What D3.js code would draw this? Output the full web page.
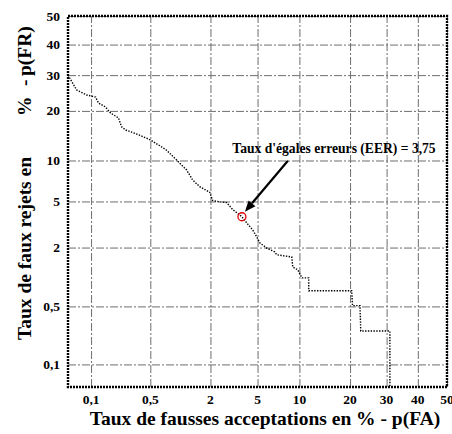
<!DOCTYPE html>
<html>
<head>
<meta charset="utf-8">
<script src="https://cdn.jsdelivr.net/npm/d3@7"></script>
<style>
  html, body { margin: 0; padding: 0; background: #fff; }
  svg { display: block; }
  text { font-family: "Liberation Serif", "Times New Roman", serif; font-weight: bold; }
</style>
</head>
<body>
<svg id="chart" width="452" height="434"></svg>
<script>
// DET curve: false acceptance vs false rejection rates (%), normal-deviate axes
const faRate = [0.05, 0.065, 0.087, 0.114, 0.124, 0.151, 0.174, 0.217, 0.236, 0.263,
  0.35, 0.50, 0.66, 0.745, 0.94, 1.19, 1.36, 1.59, 1.97, 2.09,
  2.28, 2.79, 3.14, 3.75, 4.1, 4.58, 4.93, 5.2, 5.88, 6.74,
  6.97, 8.88, 9.03, 9.75, 10.4, 11.5, 11.5, 20.4, 20.6, 22.5,
  22.7, 31.0, 31.0];
const frRate = [30.0, 25.6, 24.2, 23.6, 22.0, 21.0, 19.5, 18.3, 16.3, 15.6,
  14.8, 13.6, 12.3, 11.7, 10.1, 8.6, 7.3, 6.5, 5.9, 5.1,
  5.0, 4.9, 4.3, 3.75, 3.33, 2.89, 2.5, 2.21, 1.98, 1.82,
  1.71, 1.63, 1.30, 1.22, 1.01, 1.01, 0.74, 0.74, 0.51, 0.51,
  0.26, 0.26, 0.05];
const xTicks = [0.1, 0.5, 2, 5, 10, 20, 30, 40, 50];
const yTicks = [0.1, 0.5, 2, 5, 10, 20, 30, 40, 50];
const eer = 3.75;
const rateMin = 0.05, rateMax = 50;

// Inverse of the standard normal CDF (Acklam's rational approximation)
function probit(p) {
  const a = [-39.69683028665376, 220.9460984245205, -275.9285104469687, 138.3577518672690, -30.66479806614716, 2.506628277459239];
  const b = [-54.47609879822406, 161.5858368580409, -155.6989798598866, 66.80131188771972, -13.28068155288572];
  const c = [-0.007784894002430293, -0.3223964580411365, -2.400758277161838, -2.549732539343734, 4.374664141464968, 2.938163982698783];
  const d = [0.007784695709041462, 0.3224671290700398, 2.445134137142996, 3.754408661907416];
  const pl = 0.02425;
  let q, r;
  if (p < pl) {
    q = Math.sqrt(-2 * Math.log(p));
    return (((((c[0]*q+c[1])*q+c[2])*q+c[3])*q+c[4])*q+c[5]) / ((((d[0]*q+d[1])*q+d[2])*q+d[3])*q+1);
  } else if (p <= 1 - pl) {
    q = p - 0.5; r = q * q;
    return (((((a[0]*r+a[1])*r+a[2])*r+a[3])*r+a[4])*r+a[5])*q / (((((b[0]*r+b[1])*r+b[2])*r+b[3])*r+b[4])*r+1);
  } else {
    q = Math.sqrt(-2 * Math.log(1 - p));
    return -(((((c[0]*q+c[1])*q+c[2])*q+c[3])*q+c[4])*q+c[5]) / ((((d[0]*q+d[1])*q+d[2])*q+d[3])*q+1);
  }
}
const z = pct => probit(pct / 100);

const plotL = 68, plotR = 447, plotT = 16, plotB = 387;
const xLin = d3.scaleLinear().domain([z(rateMin), z(rateMax)]).range([plotL, plotR]);
const yLin = d3.scaleLinear().domain([z(rateMin), z(rateMax)]).range([plotB, plotT]);
const x = v => xLin(z(v));
const y = v => yLin(z(v));
const fmt = v => String(v).replace(".", ",");

const svg = d3.select("#chart");

// grid lines via axes
const gridX = d3.axisBottom(xLin)
  .tickValues(xTicks.map(z)).tickSizeInner(-(plotB - plotT)).tickSizeOuter(0).tickFormat("");
const gridY = d3.axisLeft(yLin)
  .tickValues(yTicks.map(z)).tickSizeInner(-(plotR - plotL)).tickSizeOuter(0).tickFormat("");

const gx = svg.append("g").attr("transform", `translate(0,${plotB})`).call(gridX);
const gy = svg.append("g").attr("transform", `translate(${plotL},0)`).call(gridY);
[gx, gy].forEach(g => {
  g.select(".domain").remove();
  g.selectAll(".tick line").attr("stroke", "#6e6e6e").attr("stroke-width", 1)
    .attr("stroke-dasharray", "8,2,2,2");
});

// tick labels
svg.append("g").selectAll("text").data(xTicks).join("text")
  .attr("x", d => x(d)).attr("y", 404)
  .attr("text-anchor", "middle").attr("font-size", 13.5)
  .text(fmt);
svg.append("g").selectAll("text").data(yTicks).join("text")
  .attr("x", 60).attr("y", d => y(d) + 4.5)
  .attr("text-anchor", "end").attr("font-size", 13.5)
  .text(fmt);

// DET curve
const pts = faRate.map((f, i) => [f, frRate[i]]);
svg.append("path").datum(pts)
  .attr("d", d3.line().x(d => x(d[0])).y(d => y(d[1])))
  .attr("fill", "none").attr("stroke", "#000").attr("stroke-width", 1.4)
  .attr("stroke-dasharray", "1.4,1.4");

// frame
svg.append("rect")
  .attr("x", plotL).attr("y", plotT).attr("width", plotR - plotL).attr("height", plotB - plotT)
  .attr("fill", "none").attr("stroke", "#000").attr("stroke-width", 2.4)
  .attr("stroke-dasharray", "2,1");

// EER marker and annotation
const ex = x(eer), ey = y(eer);
svg.append("circle").attr("cx", ex).attr("cy", ey).attr("r", 4)
  .attr("fill", "none").attr("stroke", "#e00000").attr("stroke-width", 1.3);

const tipX = ex + 3, tipY = ey - 5, tailX = ex + 46, tailY = ey - 56;
const ang = Math.atan2(tipY - tailY, tipX - tailX);
const hl = 11, hw = 4.5;
const bx = tipX - hl * Math.cos(ang), by = tipY - hl * Math.sin(ang);
svg.append("line").attr("x1", tailX).attr("y1", tailY).attr("x2", bx).attr("y2", by)
  .attr("stroke", "#000").attr("stroke-width", 2.2);
svg.append("path")
  .attr("d", `M${tipX},${tipY}L${bx + hw * Math.sin(ang)},${by - hw * Math.cos(ang)}L${bx - hw * Math.sin(ang)},${by + hw * Math.cos(ang)}Z`)
  .attr("fill", "#000");

svg.append("text").attr("x", 334).attr("y", 153)
  .attr("text-anchor", "middle").attr("font-size", 13.6)
  .text("Taux d'égales erreurs (EER) = " + fmt(eer));

// axis titles
svg.append("text").attr("x", 265).attr("y", 425)
  .attr("text-anchor", "middle").attr("font-size", 19.5)
  .text("Taux de fausses acceptations en % - p(FA)");
const yTitle = svg.append("text").attr("transform", "translate(31,340) rotate(-90)")
  .attr("text-anchor", "start").attr("font-size", 19.5);
yTitle.append("tspan").attr("x", 0).text("Taux de faux rejets en");
yTitle.append("tspan").attr("x", 224).text("%");
yTitle.append("tspan").attr("x", 254).text("-");
yTitle.append("tspan").attr("x", 264).text("p(FR)");
</script>
</body>
</html>
